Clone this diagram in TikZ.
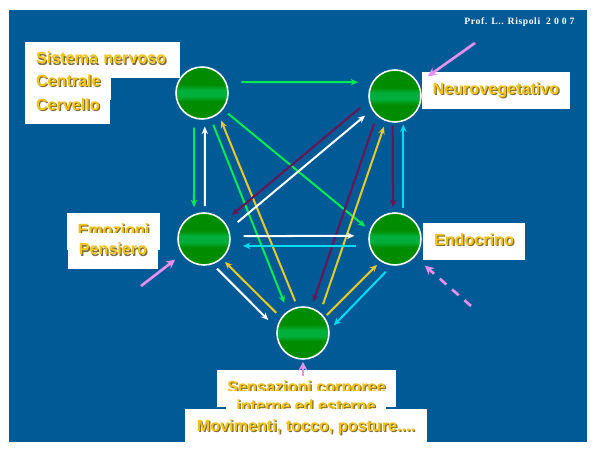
\documentclass[tikz,border=0pt]{standalone}
\usepackage{fontspec}
\setmainfont{Liberation Sans}
\newfontfamily\creditfont[LetterSpace=6]{Liberation Serif}
\usetikzlibrary{calc}
\usetikzlibrary{arrows.meta}

\definecolor{slideblue}{RGB}{0,90,150}
\definecolor{ballgreen}{RGB}{0,140,0}
\definecolor{ballmid}{RGB}{0,175,60}
\definecolor{labelyellow}{RGB}{245,195,20}
\definecolor{labelshadow}{RGB}{125,110,60}
\definecolor{linegreen}{RGB}{0,235,80}
\definecolor{lineyellow}{RGB}{230,200,40}
\definecolor{linepurple}{RGB}{105,20,85}
\definecolor{linecyan}{RGB}{0,220,240}
\definecolor{linepink}{RGB}{230,145,240}

\pgfdeclareverticalshading{ballstripes}{100bp}{color(0bp)=(ballgreen); color(25bp)=(ballgreen);
    color(42bp)=(ballgreen); color(47bp)=(ballmid); color(53bp)=(ballmid); color(58bp)=(ballgreen);
    color(75bp)=(ballgreen); color(100bp)=(ballgreen)}

\newcommand{\shadowtxt}[1]{\rlap{\kern0.7pt\raisebox{-0.7pt}{\color{labelshadow}#1}}#1}

\tikzset{
    ball/.style={circle,draw=white,line width=0.9pt,minimum size=1.04cm,inner sep=0pt,shading=ballstripes},
    txtbox/.style={fill=white,text=labelyellow,inner sep=0pt,text height=6.5pt,text depth=2.1pt,
        font=\bfseries\fontsize{9.2}{11}\selectfont},
    link/.style={line width=1.15pt,-{Stealth[length=4.2pt,width=3.6pt]},shorten <=#1},
    pinkarrow/.style={linepink,line width=1.5pt,-{Stealth[length=5pt,width=5pt]}}
}

\begin{document}
\begin{tikzpicture}[x=0.02cm,y=-0.02cm]
    \path[use as bounding box,fill=white] (0,0) rectangle (600,456);
    % Border.
    \fill[slideblue] (9,10) rectangle (587,442);
    \node[text=white,font=\creditfont\bfseries\fontsize{5.5}{8}\selectfont] (credit) at (519.5,22) {Prof. L.. Rispoli\ \ 2 0 0 7};
    % Labels, later ones cover earlier ones.
    \node[txtbox,minimum width=3.1cm,minimum height=0.72cm,text width=2.66cm] (sistema) at (102.5,60) {\shadowtxt{Sistema nervoso}};
    \node[txtbox,minimum width=1.72cm,minimum height=0.7cm,text width=1.28cm] (centrale) at (68,82.5) {\shadowtxt{Centrale}};
    \node[txtbox,minimum width=1.70cm,minimum height=0.70cm,text width=1.26cm] (cervello) at (67.5,106.5) {\shadowtxt{Cervello}};
    \node[txtbox,minimum width=1.86cm,minimum height=0.74cm] (emozioni) at (113.5,231.5) {\shadowtxt{Emozioni}};
    \node[txtbox,minimum width=1.80cm,minimum height=0.72cm] (pensiero) at (113,251) {\shadowtxt{Pensiero}};
    \node[txtbox,minimum width=2.96cm,minimum height=0.74cm] (neuro) at (496,90.5) {\shadowtxt{Neurovegetativo}};
    \node[txtbox,minimum width=2.03cm,minimum height=0.74cm] (endo) at (474,241.5) {\shadowtxt{Endocrino}};
    \node[txtbox,minimum width=3.58cm,minimum height=0.74cm] (sensazioni) at (306.5,388.5) {\shadowtxt{Sensazioni corporee}};
    \node[txtbox,minimum width=3.2cm,minimum height=0.66cm] (interne) at (306,407.5) {\shadowtxt{interne ed esterne}};
    \node[txtbox,minimum width=4.84cm,minimum height=0.74cm] (movimenti) at (306,427.5) {\shadowtxt{Movimenti, tocco, posture....}};
    % Balls.
    \node[ball] (cn) at (202,93) {};
    \node[ball] (nv) at (395,96) {};
    \node[ball] (em) at (204,239) {};
    \node[ball] (en) at (395,239) {};
    \node[ball] (se) at (303,333) {};
    % Links between the balls.
    \foreach \a/\aa/\b/\bb/\sa/\sb/\col in {
        cn/24/nv/149/15/14/linegreen,
        cn/-107/em/112/9/7/linegreen,
        em/88/cn/-84/6/7/white,
        cn/-71.7/se/125.8/7/8.7/linegreen,
        se/102/cn/-52.8/6/7/lineyellow,
        cn/-38.7/en/161.8/6.4/5.7/linegreen,
        nv/190.5/em/41/11/9.9/linepurple,
        em/21/nv/211.7/11.4/9/white,
        nv/227.6/se/72.3/8.5/5.6/linepurple,
        se/50.4/nv/250.3/8.7/5.9/lineyellow,
        nv/265.8/en/94/3/5/linepurple,
        en/72.8/nv/-72.8/6/3/linecyan,
        em/6.4/en/173.6/13/14/white,
        en/195/em/-15/13/13/linecyan,
        em/-71.4/se/170/6/11.8/white,
        se/145.5/em/-48/6.7/4.2/lineyellow,
        se/36/en/237/3/4.7/lineyellow,
        en/263.6/se/7.7/8.6/6.1/linecyan}
      \draw[link=\sa*0.02cm,shorten >=\sb*0.02cm,\col] (\a.\aa) -- (\b.\bb);
    % Pink arrows from outside.
    \coordinate (nvfree) at (475,43);
    \coordinate (emfree) at (141,286);
    \coordinate (enfree) at (471,306);
    \coordinate (sefree) at (303,376);
    \draw[pinkarrow,shorten >=11.6*0.02cm] (nvfree) -- (nv.29.5);
    \draw[pinkarrow,shorten >=8.8*0.02cm] (emfree) -- (em.215.4);
    \draw[pinkarrow,dash pattern=on 5pt off 4.3pt,shorten >=13.4*0.02cm] (enfree) -- (en.-42.4);
    \draw[pinkarrow,shorten >=2*0.02cm] (sefree) -- (se.south);
\end{tikzpicture}
\end{document}
